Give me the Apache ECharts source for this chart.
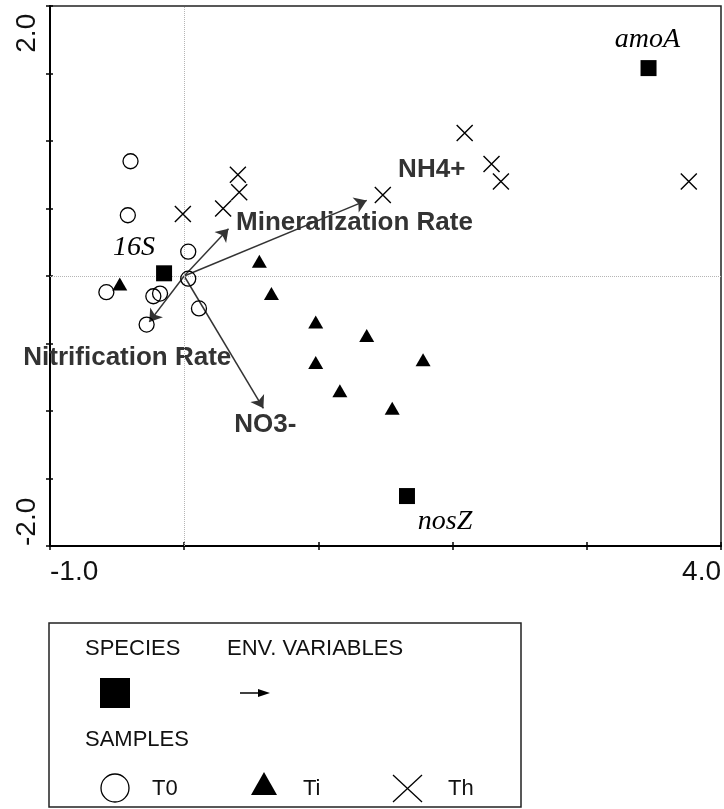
<!DOCTYPE html>
<html><head><meta charset="utf-8">
<script src="https://cdn.jsdelivr.net/npm/echarts@6/dist/echarts.min.js"></script>
<style>html,body{margin:0;padding:0;background:#fff}#c{width:724px;height:809px}</style>
</head><body><div id="c"></div>
<script>
// ---- data ----
const t0X = [-0.40, -0.42, 0.03, -0.58, -0.23, -0.18, 0.03, 0.11, -0.28];
const t0Y = [0.85, 0.45, 0.18, -0.12, -0.15, -0.13, -0.02, -0.24, -0.36];
const tiX = [-0.48, 0.56, 0.65, 0.98, 1.36, 0.98, 1.78, 1.16, 1.55];
const tiY = [-0.06, 0.11, -0.13, -0.34, -0.44, -0.64, -0.62, -0.85, -0.98];
const thX = [0.40, 0.41, -0.01, 0.29, 1.48, 2.09, 2.29, 2.36, 3.76];
const thY = [0.75, 0.62, 0.46, 0.50, 0.60, 1.06, 0.83, 0.70, 0.70];
const speciesNames = ['amoA', '16S', 'nosZ'];
const speciesX = [3.46, -0.15, 1.66];
const speciesY = [1.54, 0.02, -1.63];
const envNames = ['NH4+', 'Mineralization Rate', 'Nitrification Rate', 'NO3-'];
const envX = [1.36, 0.33, -0.26, 0.59];
const envY = [0.56, 0.35, -0.34, -0.98];
const xLabelValues = [-1, 4];
const xLabelTexts = ['-1.0', '4.0'];
const yLabelValues = [-2, 2];
const yLabelTexts = ['-2.0', '2.0 '];
const legendSampleNames = ['T0', 'Ti', 'Th'];

// ---- styling (not data) ----
const speciesLabelOffsets = [[-1, -28], [-30, -26], [38, 26]];
const envLabelOffsets = [[65, -31], [126, -6], [-22, 36], [2, 17]];
const SANS = '"Liberation Sans", Arial, sans-serif';
const SERIF = '"Liberation Serif", "Times New Roman", serif';
const LEG_FONT = '22px ' + SANS;

const zip = (a, b) => a.map((v, i) => [v, b[i]]);
const fmt = (vals, texts) => v => {
  const i = vals.findIndex(x => Math.abs(x - v) < 1e-9);
  return i >= 0 ? texts[i] : '';
};

const chart = echarts.init(document.getElementById('c'), null, {renderer: 'canvas'});
const crossPath = 'path://M0,0L10,10M10,0L0,10';

const option = {
  animation: false,
  backgroundColor: '#fff',
  grid: {left: 50, right: 3, top: 6, bottom: 263, show: true, borderColor: '#222', borderWidth: 1.5, containLabel: false, outerBoundsMode: 'none'},
  xAxis: [
    {type: 'value', min: -1, max: 4, interval: 1, position: 'bottom',
     axisLine: {show: true, onZero: false, lineStyle: {color: '#000', width: 2}},
     axisTick: {show: true, length: 4, lineStyle: {color: '#000', width: 1.5}},
     axisLabel: {show: true, formatter: fmt(xLabelValues, xLabelTexts), fontSize: 28, fontFamily: SANS, color: '#111', margin: 12,
                 alignMinLabel: 'left', alignMaxLabel: 'right', showMinLabel: true, showMaxLabel: true},
     splitLine: {show: false}},
    {type: 'value', min: -1, max: 4, interval: 1, position: 'bottom',
     axisLine: {show: false, onZero: false},
     axisTick: {show: true, inside: true, length: 4, lineStyle: {color: '#000', width: 1.5}},
     axisLabel: {show: false}, splitLine: {show: false}}
  ],
  yAxis: [
    {type: 'value', min: -2, max: 2, interval: 0.5, position: 'left',
     axisLine: {show: true, onZero: false, lineStyle: {color: '#000', width: 2}},
     axisTick: {show: true, length: 4, lineStyle: {color: '#000', width: 1.5}},
     axisLabel: {show: true, rotate: 90, formatter: fmt(yLabelValues, yLabelTexts), fontSize: 28, fontFamily: SANS, color: '#111', margin: 9,
                 alignMinLabel: 'left', alignMaxLabel: 'right', showMinLabel: true, showMaxLabel: true},
     splitLine: {show: false}},
    {type: 'value', min: -2, max: 2, interval: 0.5, position: 'left',
     axisLine: {show: false, onZero: false},
     axisTick: {show: true, inside: true, length: 3, lineStyle: {color: '#000', width: 1.5}},
     axisLabel: {show: false}, splitLine: {show: false}}
  ],
  series: [
    {type: 'lines', coordinateSystem: 'cartesian2d', z: 3,
     symbol: ['none', 'arrow'], symbolSize: 12,
     lineStyle: {color: '#333', width: 1.5, opacity: 1},
     data: envNames.map((n, i) => ({name: n, coords: [[0, 0], [envX[i], envY[i]]]})),
     markLine: {silent: true, symbol: 'none', label: {show: false},
       lineStyle: {type: 'dotted', color: '#b5b5b5', width: 1},
       data: [{xAxis: 0}, {yAxis: 0}]}
    },
    {type: 'scatter', name: 'envLabels', z: 4, symbolSize: 1, itemStyle: {color: 'rgba(0,0,0,0)', opacity: 1},
     data: envNames.map((n, i) => ({name: n, value: [envX[i], envY[i]],
       label: {show: true, position: 'inside', offset: envLabelOffsets[i], formatter: n, opacity: 1,
         fontFamily: SANS, fontWeight: 'bold', fontSize: 26, color: '#333'}}))
    },
    {type: 'scatter', name: legendSampleNames[0], z: 5, symbol: 'circle', symbolSize: 15,
     itemStyle: {color: 'rgba(0,0,0,0)', borderColor: '#000', borderWidth: 1.3, opacity: 1},
     data: zip(t0X, t0Y)},
    {type: 'scatter', name: legendSampleNames[1], z: 5, symbol: 'triangle', symbolSize: [15, 13],
     itemStyle: {color: '#000', opacity: 1},
     data: zip(tiX, tiY)},
    {type: 'scatter', name: legendSampleNames[2], z: 5, symbol: crossPath, symbolSize: 16,
     itemStyle: {color: 'rgba(0,0,0,0)', borderColor: '#000', borderWidth: 1.4, opacity: 1},
     data: zip(thX, thY)},
    {type: 'scatter', name: 'species', z: 6, symbol: 'rect', symbolSize: 16,
     itemStyle: {color: '#000', opacity: 1},
     data: speciesNames.map((n, i) => ({name: n, value: [speciesX[i], speciesY[i]],
       label: {show: true, position: 'inside', offset: speciesLabelOffsets[i], formatter: n, opacity: 1,
         fontFamily: SERIF, fontStyle: 'italic', fontSize: 28, color: '#000'}}))
    }
  ],
  graphic: [
    {type: 'rect', shape: {x: 49, y: 623, width: 472, height: 184}, style: {fill: 'none', stroke: '#222', lineWidth: 1.5}},
    {type: 'text', x: 85, y: 649, style: {text: 'SPECIES', font: LEG_FONT, fill: '#111', verticalAlign: 'middle'}},
    {type: 'text', x: 227, y: 649, style: {text: 'ENV. VARIABLES', font: LEG_FONT, fill: '#111', verticalAlign: 'middle'}},
    {type: 'rect', shape: {x: 100, y: 678, width: 30, height: 30}, style: {fill: '#000'}},
    {type: 'line', shape: {x1: 240, y1: 693, x2: 262, y2: 693}, style: {stroke: '#000', lineWidth: 1.5}},
    {type: 'polygon', shape: {points: [[270, 693], [258, 689], [258, 697]]}, style: {fill: '#000'}},
    {type: 'text', x: 85, y: 740, style: {text: 'SAMPLES', font: LEG_FONT, fill: '#111', verticalAlign: 'middle'}},
    {type: 'circle', shape: {cx: 115, cy: 788, r: 14}, style: {fill: 'none', stroke: '#000', lineWidth: 1.3}},
    {type: 'text', x: 152, y: 789, style: {text: legendSampleNames[0], font: LEG_FONT, fill: '#111', verticalAlign: 'middle'}},
    {type: 'polygon', shape: {points: [[264, 772], [251, 795], [277, 795]]}, style: {fill: '#000'}},
    {type: 'text', x: 303, y: 789, style: {text: legendSampleNames[1], font: LEG_FONT, fill: '#111', verticalAlign: 'middle'}},
    {type: 'line', shape: {x1: 393, y1: 775, x2: 422, y2: 802}, style: {stroke: '#000', lineWidth: 1.3}},
    {type: 'line', shape: {x1: 393, y1: 802, x2: 422, y2: 775}, style: {stroke: '#000', lineWidth: 1.3}},
    {type: 'text', x: 448, y: 789, style: {text: legendSampleNames[2], font: LEG_FONT, fill: '#111', verticalAlign: 'middle'}}
  ]
};
chart.setOption(option);
</script>
</body></html>
